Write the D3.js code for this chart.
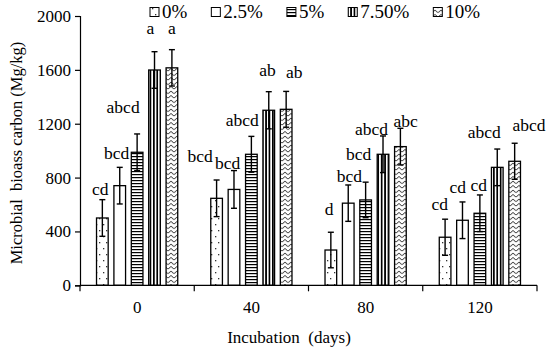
<!DOCTYPE html>
<html>
<head>
<meta charset="utf-8">
<script src="https://cdn.jsdelivr.net/npm/d3@7"></script>
<style>
    body { margin: 0; background: #fff; }
    svg text { font-family: "Liberation Serif", "Times New Roman", serif; fill: #000; }
</style>
</head>
<body>
<script>
// incubation days (categories) and treatments (series)
var days = ["0", "40", "80", "120"]
var treatments = ["0%", "2.5%", "5%", "7.50%", "10%"]

// microbial biomass carbon (Mg/kg), one array per treatment, across days
var mbc0 = [500, 646, 262, 357]
var mbc25 = [740, 712, 610, 483]
var mbc5 = [988, 973, 634, 535]
var mbc75 = [1599, 1300, 973, 876]
var mbc10 = [1615, 1307, 1030, 921]

// error bars
var err0 = [136, 136, 132, 134]
var err25 = [136, 140, 135, 136]
var err5 = [136, 133, 132, 136]
var err75 = [136, 138, 136, 136]
var err10 = [135, 133, 136, 134]

// significance letters
var sig0 = ["cd", "bcd", "d", "cd"]
var sig25 = ["bcd", "bcd", "bcd", "cd"]
var sig5 = ["abcd", "abcd", "bcd", "cd"]
var sig75 = ["a", "ab", "abcd", "abcd"]
var sig10 = ["a", "ab", "abc", "abcd"]

var yTicks = [0, 400, 800, 1200, 1600, 2000]

document.addEventListener('DOMContentLoaded', function () {
    const width = 550
    const height = 352
    const font = "Liberation Serif, Times New Roman, serif"

    // plot area
    const left = 80, right = 537, top = 16, bottom = 285.3

    var values = [mbc0, mbc25, mbc5, mbc75, mbc10]
    var errors = [err0, err25, err5, err75, err10]
    var letters = [sig0, sig25, sig5, sig75, sig10]

    // hand placed letter positions (px shift, height in y units), like the original
    var labelAt = [
        [[-2, 671], [-16.5, 918], [-1.8, 522], [-5.3, 559]],
        [[-3, 936], [-6.4, 864], [1.2, 769], [-4.7, 683]],
        [[-14, 1282], [-9.2, 1183], [-7, 931], [-1.2, 703]],
        [[-4, 1868], [-1.3, 1553], [-11.6, 1116], [-12.9, 1092]],
        [[0, 1868], [8, 1537], [5.3, 1178], [14.4, 1146]]
    ]

    var rows = []
    treatments.forEach(function (t, i) {
        days.forEach(function (d, j) {
            rows.push({
                s: i, day: d, treat: t, value: values[i][j], err: errors[i][j],
                sig: letters[i][j], dx: labelAt[i][j][0], ly: labelAt[i][j][1]
            })
        })
    })

    var svg = d3.select("body")
        .append("svg")
        .attr("width", width)
        .attr("height", height)
        .attr("font-family", font)

    svg.append("rect").attr("width", width).attr("height", height).attr("fill", "#fff")

    //patterns for the bars
    var defs = svg.append("defs")

    var p0 = defs.append("pattern").attr("id", "pat0").attr("patternUnits", "userSpaceOnUse")
        .attr("width", 7).attr("height", 12)
    p0.append("rect").attr("width", 7).attr("height", 12).attr("fill", "#fff")
    p0.append("rect").attr("x", 1).attr("y", 2).attr("width", 1.3).attr("height", 1.3).attr("fill", "#333")
    p0.append("rect").attr("x", 5).attr("y", 8).attr("width", 1.3).attr("height", 1.3).attr("fill", "#333")

    var p1 = defs.append("pattern").attr("id", "pat1").attr("patternUnits", "userSpaceOnUse")
        .attr("width", 4).attr("height", 4)
    p1.append("rect").attr("width", 4).attr("height", 4).attr("fill", "#fff")

    var p2 = defs.append("pattern").attr("id", "pat2").attr("patternUnits", "userSpaceOnUse")
        .attr("width", 4).attr("height", 3)
    p2.append("rect").attr("width", 4).attr("height", 3).attr("fill", "#fff")
    p2.append("rect").attr("y", 0).attr("width", 4).attr("height", 1.2).attr("fill", "#000")

    var p3 = defs.append("pattern").attr("id", "pat3").attr("patternUnits", "userSpaceOnUse")
        .attr("width", 3.4).attr("height", 4)
    p3.append("rect").attr("width", 3.4).attr("height", 4).attr("fill", "#fff")
    p3.append("rect").attr("x", 0).attr("width", 1.7).attr("height", 4).attr("fill", "#000")

    var p4 = defs.append("pattern").attr("id", "pat4").attr("patternUnits", "userSpaceOnUse")
        .attr("width", 6).attr("height", 4.5)
    p4.append("rect").attr("width", 6).attr("height", 4.5).attr("fill", "#fff")
    p4.append("path").attr("d", "M0,3.8 L3,1 L6,3.8").attr("fill", "none")
        .attr("stroke", "#000").attr("stroke-width", 0.9)

    //scales
    var xScale = d3.scaleBand().domain(days).range([left, right])
    var xInner = d3.scaleBand().domain(d3.range(treatments.length))
        .range([0, xScale.bandwidth()]).paddingInner(0.33).paddingOuter(0.95)
    var yScale = d3.scaleLinear().domain([0, 2000]).range([bottom, top])

    //y axis
    svg.append("g")
        .attr("transform", "translate(" + left + ",0)")
        .call(d3.axisLeft(yScale).tickValues(yTicks).tickSize(5).tickPadding(4).tickFormat(d3.format("d")))
        .attr("font-family", font)
        .attr("font-size", 17)
        .call(g => g.select(".domain").attr("stroke-width", 1.2))
        .call(g => g.selectAll(".tick line").attr("stroke-width", 1.2))

    //bars
    svg.append("g").selectAll("rect")
        .data(rows)
        .enter()
        .append("rect")
        .attr("x", d => xScale(d.day) + xInner(d.s))
        .attr("y", d => yScale(d.value))
        .attr("width", xInner.bandwidth())
        .attr("height", d => yScale(0) - yScale(d.value))
        .attr("fill", d => "url(#pat" + d.s + ")")
        .attr("stroke", "#000")
        .attr("stroke-width", 1.3)

    //error bars
    var eb = svg.append("g").attr("stroke", "#000").attr("stroke-width", 1.4)
    rows.forEach(function (d) {
        var cx = xScale(d.day) + xInner(d.s) + xInner.bandwidth() / 2
        var y1 = yScale(d.value + d.err), y2 = yScale(d.value - d.err)
        eb.append("line").attr("x1", cx).attr("x2", cx).attr("y1", y1).attr("y2", y2)
        eb.append("line").attr("x1", cx - 3).attr("x2", cx + 3).attr("y1", y1).attr("y2", y1)
        eb.append("line").attr("x1", cx - 3).attr("x2", cx + 3).attr("y1", y2).attr("y2", y2)
    })

    //x axis line and ticks at category boundaries
    var xg = svg.append("g").attr("stroke", "#000").attr("stroke-width", 1.2)
    xg.append("line").attr("x1", left).attr("x2", right).attr("y1", bottom).attr("y2", bottom)
    days.concat(["end"]).forEach(function (d, i) {
        var x = i < days.length ? xScale(d) : xScale(days[days.length - 1]) + xScale.bandwidth()
        xg.append("line").attr("x1", x).attr("x2", x).attr("y1", bottom).attr("y2", bottom + 6)
    })

    //category labels
    svg.append("g").selectAll("text")
        .data(days)
        .enter()
        .append("text")
        .attr("x", d => xScale(d) + xScale.bandwidth() / 2)
        .attr("y", 313)
        .attr("text-anchor", "middle")
        .attr("font-size", 17)
        .text(d => d)

    //significance letters
    svg.append("g").selectAll("text")
        .data(rows)
        .enter()
        .append("text")
        .attr("x", d => xScale(d.day) + xInner(d.s) + xInner.bandwidth() / 2 + d.dx)
        .attr("y", d => yScale(d.ly))
        .attr("text-anchor", "middle")
        .attr("font-size", 17.5)
        .text(d => d.sig)

    //axis titles
    svg.append("text")
        .attr("x", 289)
        .attr("y", 343)
        .attr("text-anchor", "middle")
        .attr("font-size", 17)
        .style("white-space", "pre")
        .text("Incubation  (days)")

    svg.append("text")
        .attr("transform", "rotate(-90)")
        .attr("x", -153)
        .attr("y", 22)
        .attr("text-anchor", "middle")
        .attr("font-size", 16.5)
        .style("white-space", "pre")
        .text("Microbial  bioass carbon (Mg/kg)")

    //legend
    var lg = svg.append("g")
    var lx = 150
    treatments.forEach(function (t, i) {
        lg.append("rect")
            .attr("x", lx).attr("y", 7.5).attr("width", 9).attr("height", 9)
            .attr("fill", "url(#pat" + i + ")").attr("stroke", "#000").attr("stroke-width", 1)
        var txt = lg.append("text")
            .attr("x", lx + 12).attr("y", 17.5)
            .attr("font-size", 19)
            .text(t)
        lx = lx + 12 + txt.node().getComputedTextLength() + 24
    })
});
</script>
</body>
</html>
